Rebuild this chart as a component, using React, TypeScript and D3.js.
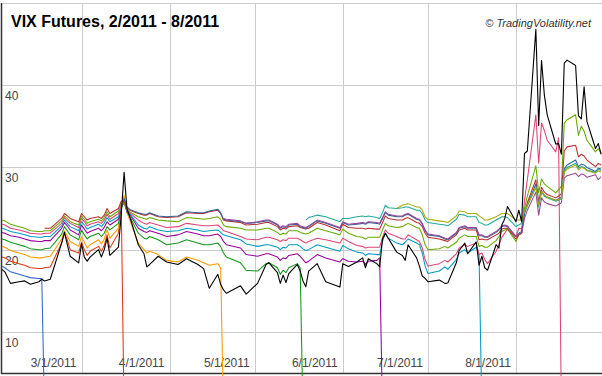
import React from "react";
import * as d3 from "d3";

// ---------- DATA ----------
const dates: string[] = [
  // Feb
  "2011-02-01","2011-02-02","2011-02-04","2011-02-07","2011-02-09","2011-02-11","2011-02-14","2011-02-15","2011-02-16","2011-02-18","2011-02-22","2011-02-23","2011-02-24","2011-02-25","2011-02-28",
  // Mar
  "2011-03-01","2011-03-02","2011-03-03","2011-03-04","2011-03-07","2011-03-08","2011-03-09","2011-03-10","2011-03-11","2011-03-14","2011-03-15","2011-03-16","2011-03-17","2011-03-18","2011-03-21","2011-03-23","2011-03-24","2011-03-25","2011-03-28","2011-03-31",
  // Apr
  "2011-04-04","2011-04-07","2011-04-11","2011-04-13","2011-04-15","2011-04-18","2011-04-19","2011-04-20","2011-04-21","2011-04-26","2011-04-28",
  // May
  "2011-05-02","2011-05-05","2011-05-06","2011-05-09","2011-05-10","2011-05-11","2011-05-12","2011-05-13","2011-05-16","2011-05-17","2011-05-18","2011-05-19","2011-05-20","2011-05-23","2011-05-26","2011-05-31",
  // Jun
  "2011-06-01","2011-06-03","2011-06-06","2011-06-08","2011-06-09","2011-06-10","2011-06-13","2011-06-14","2011-06-15","2011-06-16","2011-06-17","2011-06-20","2011-06-22","2011-06-23","2011-06-24","2011-06-27","2011-06-28","2011-06-29","2011-06-30",
  // Jul
  "2011-07-01","2011-07-05","2011-07-07","2011-07-08","2011-07-11","2011-07-12","2011-07-14","2011-07-15","2011-07-18","2011-07-19","2011-07-20","2011-07-21","2011-07-22","2011-07-25","2011-07-26","2011-07-27","2011-07-28","2011-07-29",
  // Aug
  "2011-08-01","2011-08-02","2011-08-03","2011-08-04","2011-08-05","2011-08-08","2011-08-09","2011-08-10","2011-08-11","2011-08-12","2011-08-15","2011-08-16","2011-08-17","2011-08-18","2011-08-19","2011-08-22","2011-08-23","2011-08-24","2011-08-25","2011-08-26","2011-08-29","2011-08-30","2011-08-31",
];

const vix: number[] = [
  17.6, 17.3, 15.9, 16.1, 16.2, 15.8, 16.1, 16.4, 16.2, 16.4, 20.8, 22.1, 20.6, 19.2, 18.4,
  20.7, 19.1, 18.6, 19.1, 20.0, 19.1, 20.0, 21.4, 19.3, 20.3, 24.3, 29.4, 25.0, 24.0, 20.6, 19.5, 17.9, 18.2, 19.2, 18.5,
  18.2, 18.9, 18.2, 17.7, 15.3, 17.0, 15.8, 15.1, 14.7, 15.6, 14.6,
  15.9, 18.2, 18.4, 17.2, 15.9, 16.9, 16.0, 17.1, 18.2, 17.4, 16.2, 15.5, 17.4, 18.3, 16.1, 15.45,
  18.3, 17.95, 18.5, 19.0, 17.8, 18.9, 18.3, 17.9, 21.3, 22.0, 21.4, 19.7, 19.3, 18.7, 20.6, 19.0, 18.0, 16.8, 16.5,
  16.1, 16.3, 15.9, 15.95, 18.4, 19.9, 20.8, 19.5, 20.95, 18.1, 19.2, 17.8, 17.5, 20.6, 20.2, 23.0, 23.7, 25.25,
  23.4, 24.8, 23.4, 31.7, 32.0, 46.8, 35.1, 43.0, 38.8, 36.4, 32.85, 32.9, 31.6, 42.7, 43.05, 42.4, 36.3, 35.9, 39.8, 35.6, 32.3, 32.9, 31.6,
];

const feb11: number[] = [18.0, 17.8, 17.3, 17.0, 16.8, 16.6, 16.5, 16.5, 0];

const mar11: number[] = [
  19.1, 19.0, 18.6, 18.3, 18.1, 17.8, 17.7, 17.7, 17.8, 17.9, 20.8, 22.0, 21.2, 20.0, 19.6,
  20.9, 20.0, 19.3, 19.8, 20.4, 19.8, 20.5, 21.8, 20.2, 22.0, 25.4, 0,
];

const apr11: number[] = [
  20.4, 20.3, 19.9, 19.6, 19.4, 19.1, 19.0, 19.0, 19.1, 19.2, 21.3, 22.3, 21.7, 21.0, 20.4,
  21.6, 20.9, 20.2, 20.6, 21.2, 20.7, 21.3, 22.4, 21.4, 22.6, 25.2, 26.6, 24.5, 23.6, 20.8, 20.0, 19.6, 19.8, 19.4, 18.7,
  18.5, 19.1, 18.7, 18.4, 18.1, 18.3, 17.8, 0,
];

const may11: number[] = [
  21.3, 21.2, 20.9, 20.6, 20.4, 20.1, 20.0, 20.0, 20.1, 20.2, 21.9, 22.8, 22.3, 21.8, 21.2,
  22.4, 21.8, 21.3, 21.6, 22.0, 21.6, 22.0, 22.8, 22.4, 23.2, 25.0, 26.2, 24.6, 24.0, 22.0, 21.4, 21.3, 21.6, 21.2, 20.6,
  20.8, 21.2, 20.8, 20.6, 20.6, 20.8, 20.4, 19.6, 19.1, 18.4, 17.5,
  17.4, 18.3, 18.4, 17.8, 17.0, 17.5, 17.2, 17.8, 18.3, 17.8, 0,
];

const jun11: number[] = [
  22.1, 22.0, 21.7, 21.5, 21.3, 21.1, 21.0, 21.0, 21.1, 21.1, 22.6, 23.3, 22.9, 22.4, 21.8,
  23.0, 22.5, 22.0, 22.2, 22.6, 22.3, 22.7, 23.4, 23.0, 23.7, 25.1, 25.9, 24.6, 24.3, 22.6, 22.2, 22.1, 22.3, 22.0, 21.6,
  21.8, 22.2, 21.9, 21.7, 21.7, 21.9, 21.6, 21.0, 20.6, 20.2, 19.4,
  19.2, 19.5, 19.5, 19.1, 18.7, 19.0, 18.9, 19.3, 19.5, 19.2, 18.8, 18.4, 18.6, 19.4, 19.0, 18.5,
  18.9, 18.6, 18.5, 18.6, 18.2, 18.6, 18.7, 19.0, 0,
];

const jul11: number[] = [
  22.6, 22.5, 22.2, 22.0, 21.8, 21.6, 21.5, 21.5, 21.6, 21.6, 22.9, 23.6, 23.2, 22.8, 22.3,
  23.4, 23.0, 22.5, 22.7, 23.1, 22.8, 23.2, 23.9, 23.4, 24.0, 25.2, 25.7, 24.7, 24.4, 23.0, 22.6, 22.5, 22.8, 22.4, 22.2,
  22.3, 22.6, 22.4, 22.2, 22.3, 22.4, 22.1, 21.8, 21.7, 21.2, 20.7,
  20.4, 20.6, 20.6, 20.3, 20.0, 20.3, 20.2, 20.6, 20.6, 20.4, 20.1, 19.9, 20.0, 20.6, 20.3, 19.8,
  20.5, 20.1, 19.7, 19.6, 19.3, 19.5, 19.4, 19.4, 21.0, 22.0, 21.4, 20.8, 20.6, 20.9, 21.3, 20.8, 20.6, 19.6, 18.0,
  17.1, 17.4, 17.9, 17.6, 18.8, 19.6, 20.0, 19.6, 20.3, 19.5, 0,
];

const aug11: number[] = [
  23.1, 23.0, 22.6, 22.4, 22.2, 22.0, 21.9, 21.9, 22.0, 22.0, 23.2, 23.9, 23.5, 23.2, 22.7,
  23.8, 23.4, 22.9, 23.1, 23.4, 23.2, 23.6, 24.3, 23.7, 24.4, 25.4, 25.6, 24.8, 24.5, 23.6, 23.2, 23.1, 23.3, 23.0, 22.7,
  22.8, 23.2, 23.0, 22.9, 22.9, 23.0, 22.7, 22.3, 22.2, 21.6, 21.3,
  21.2, 21.5, 21.5, 21.2, 21.0, 21.2, 21.1, 21.4, 21.4, 21.2, 21.0, 20.8, 21.0, 21.4, 21.2, 20.8,
  21.4, 21.0, 20.5, 20.4, 20.2, 20.3, 20.3, 20.3, 21.5, 22.4, 22.0, 21.6, 21.3, 21.3, 21.8, 21.2, 21.0, 20.2, 18.8,
  18.0, 18.3, 18.7, 18.5, 19.5, 20.2, 20.6, 20.4, 20.8, 19.4, 19.6, 18.8, 18.3, 19.8, 20.6, 21.5, 22.0, 22.5,
  21.6, 22.6, 22.5, 26.0, 28.5, 36.4, 30.5, 35.4, 34.5, 33.3, 31.9, 33.6, 0,
];

const sep11: number[] = [
  23.6, 23.5, 23.1, 22.8, 22.6, 22.3, 22.2, 22.2, 22.3, 22.3, 23.5, 24.1, 23.8, 23.4, 23.0,
  24.1, 23.7, 23.2, 23.4, 23.7, 23.5, 23.9, 24.6, 24.0, 24.7, 25.6, 25.7, 24.9, 24.6, 24.0, 23.8, 23.7, 23.9, 23.6, 23.5,
  23.4, 23.9, 23.8, 23.7, 23.8, 24.0, 23.7, 23.0, 22.8, 22.6, 22.4,
  22.4, 22.6, 22.6, 22.1, 21.8, 22.0, 21.9, 22.3, 22.3, 22.1, 22.0, 21.9, 22.0, 22.6, 22.3, 21.8,
  22.5, 22.0, 21.6, 21.5, 21.3, 21.5, 21.5, 21.5, 22.4, 23.2, 22.9, 22.7, 22.8, 23.0, 23.2, 22.7, 22.6, 21.8, 20.6,
  20.0, 20.1, 20.4, 20.2, 20.9, 21.4, 21.8, 21.6, 21.6, 20.4, 20.5, 20.3, 20.3, 21.1, 21.6, 22.2, 22.4, 22.5,
  21.0, 21.8, 22.0, 25.0, 26.5, 30.2, 26.9, 28.6, 28.0, 27.7, 26.9, 27.3, 27.7, 35.4, 35.8, 36.4, 33.9, 35.0, 34.4, 33.3, 31.9, 32.3, 31.7,
];

const oct11: number[] = [
  22.6, 22.6, 23.8, 24.4, 24.1, 23.8, 23.4,
  24.4, 24.0, 23.6, 23.8, 24.0, 23.8, 24.2, 25.0, 24.4, 25.0, 25.9, 26.0, 25.1, 24.8, 24.4, 24.2, 24.2, 24.4, 24.0, 23.9,
  24.0, 24.5, 24.4, 24.4, 24.6, 24.8, 24.4, 23.6, 23.5, 23.3, 23.0,
  23.1, 23.3, 23.3, 22.8, 22.4, 22.6, 22.5, 22.8, 22.9, 22.7, 22.6, 22.5, 22.6, 23.3, 23.0, 22.3,
  23.1, 22.7, 22.6, 22.6, 22.5, 22.6, 22.5, 22.5, 23.3, 24.1, 23.8, 23.6, 23.6, 23.8, 23.9, 23.3, 23.2, 22.8, 22.0,
  21.5, 21.3, 21.1, 21.0, 21.8, 22.4, 22.6, 22.4, 22.4, 21.2, 21.3, 21.2, 21.2, 21.8, 22.0, 22.5, 22.6, 22.6,
  21.3, 21.8, 22.0, 24.5, 25.7, 28.5, 25.8, 27.6, 27.0, 26.7, 26.3, 26.5, 26.8, 32.0, 32.5, 32.7, 31.3, 31.6, 31.4, 30.9, 30.1, 30.5, 30.3,
];

const nov11: number[] = [
  26.2, 25.2, 24.9, 24.5, 24.3, 24.3, 24.5, 24.1, 24.0,
  24.1, 24.6, 24.5, 24.5, 24.7, 24.9, 24.5, 23.7, 23.6, 23.4, 23.2,
  23.3, 23.5, 23.5, 23.0, 22.6, 22.8, 22.7, 23.0, 23.1, 22.8, 22.7, 22.6, 22.8, 23.5, 23.2, 22.6,
  23.3, 23.0, 23.1, 23.2, 23.1, 23.3, 23.2, 23.1, 23.8, 24.5, 24.2, 24.0, 24.0, 24.2, 24.3, 23.7, 23.6, 23.1, 22.3,
  21.8, 21.6, 21.3, 21.2, 22.0, 22.6, 22.8, 22.6, 22.6, 21.7, 21.7, 21.5, 21.5, 22.1, 22.4, 22.8, 22.9, 22.8,
  21.6, 22.0, 22.2, 24.4, 25.4, 28.0, 25.4, 27.2, 26.6, 26.4, 26.0, 26.2, 26.4, 29.8, 30.3, 30.9, 30.1, 30.4, 30.3, 30.0, 29.5, 29.9, 29.8,
];

const dec11: number[] = [
  23.8, 23.7, 23.5, 23.2,
  23.4, 23.6, 23.6, 23.1, 22.7, 22.9, 22.8, 23.1, 23.2, 22.9, 22.8, 22.7, 22.9, 23.6, 23.3, 22.7,
  23.4, 23.1, 23.2, 23.3, 23.2, 23.4, 23.3, 23.2, 23.9, 24.6, 24.3, 24.1, 24.1, 24.3, 24.4, 23.8, 23.7, 23.2, 22.4,
  21.9, 21.7, 21.4, 21.3, 22.1, 22.7, 22.9, 22.7, 22.7, 21.8, 21.8, 21.6, 21.6, 22.2, 22.5, 22.9, 23.0, 22.9,
  21.6, 21.9, 22.0, 23.8, 24.8, 27.0, 24.2, 26.3, 25.8, 25.6, 25.3, 25.5, 25.7, 28.7, 29.0, 29.3, 28.9, 29.2, 29.1, 28.8, 29.1, 28.5, 28.9,
];

const jan12: number[] = [
  23.6, 23.9, 24.2, 24.0, 23.4,
  23.8, 23.8, 24.0, 24.1, 24.0, 24.1, 23.9, 23.8, 24.5, 25.4, 25.1, 25.0, 25.1, 25.2, 25.2, 24.8, 24.8, 24.4, 23.6,
  23.3, 23.1, 23.0, 22.9, 23.7, 24.3, 24.2, 24.0, 24.0, 23.3, 23.2, 23.0, 23.0, 23.6, 23.8, 24.0, 24.0, 23.9,
  22.8, 23.0, 23.2, 24.6, 25.3, 27.6, 25.2, 27.0, 26.5, 26.3, 25.9, 26.0, 26.2, 29.6, 30.0, 30.5, 29.9, 30.1, 30.0, 29.7, 29.4, 29.8, 29.6,
];

const feb12: number[] = [
  25.0, 25.4, 25.5, 25.6, 25.2, 25.2, 24.8, 24.0,
  23.7, 23.5, 23.4, 23.3, 24.1, 24.7, 24.6, 24.4, 24.4, 24.1, 23.9, 23.6, 23.6, 24.0, 24.2, 24.4, 24.4, 24.4,
  23.6, 23.6, 23.6, 24.8, 25.4, 27.6, 25.4, 27.1, 26.6, 26.4, 26.0, 26.1, 26.3, 29.4, 29.8, 30.3, 29.7, 30.0, 29.9, 29.6, 29.3, 29.6, 29.4,
];

const seriesNames: string[] = ["Feb 2011", "Mar 2011", "Apr 2011", "May 2011", "Jun 2011", "Jul 2011", "Aug 2011", "Sep 2011", "Oct 2011", "Nov 2011", "Dec 2011", "Jan 2012", "Feb 2012"];
const seriesStarts: string[] = ["2011-02-01", "2011-02-01", "2011-02-01", "2011-02-01", "2011-02-01", "2011-02-01", "2011-02-01", "2011-02-01", "2011-02-16", "2011-03-16", "2011-04-20", "2011-05-19", "2011-06-20"];
const seriesValues: number[][] = [feb11, mar11, apr11, may11, jun11, jul11, aug11, sep11, oct11, nov11, dec11, jan12, feb12];
const seriesColors: string[] = ["#3366cc", "#dc3912", "#ff9900", "#109618", "#990099", "#0099c6", "#dd4477", "#66aa00", "#b82e2e", "#316395", "#994499", "#22aa99", "#aaaa11"];

const yTicks: number[] = [10, 20, 30, 40];
const monthTicks: string[] = ["2011-03-01", "2011-04-01", "2011-05-01", "2011-06-01", "2011-07-01", "2011-08-01"];
const monthLabels: string[] = ["3/1/2011", "4/1/2011", "5/1/2011", "6/1/2011", "7/1/2011", "8/1/2011"];

const title = "VIX Futures, 2/2011 - 8/2011";
const credit = "\u00a9 TradingVolatility.net";

// ---------- CHART ----------
const W = 602;
const H = 376;
const FONT = "Arial, 'Liberation Sans', sans-serif";

export default function App() {
  const parse = d3.timeParse("%Y-%m-%d");
  const dts = dates.map((d) => parse(d) as Date);

  const x = d3
    .scaleTime()
    .domain([new Date(2011, 1, 1), new Date(2011, 8, 1)])
    .range([2, 604]);
  const y = d3.scaleLinear().domain([5, 50]).range([373, 3]);

  type Pt = { d: Date; v: number };
  const line = d3
    .line<Pt>()
    .x((p) => x(p.d))
    .y((p) => y(p.v));

  const buildPts = (start: string, vals: number[]): Pt[] => {
    const s = dates.indexOf(start);
    const pts: Pt[] = [];
    vals.forEach((v, i) => {
      const k = s + i;
      if (k < dts.length) pts.push({ d: dts[k], v });
    });
    return pts;
  };

  const vixPts = buildPts(dates[0], vix);

  return (
    <svg
      width={W}
      height={H}
      style={{ position: "absolute", left: 0, top: 0, background: "#fff" }}
      fontFamily={FONT}
    >
      <rect x={0} y={0} width={W} height={H} fill="#fff" />
      {/* horizontal gridlines */}
      {[...yTicks, 50].map((t) => (
        <line key={"h" + t} x1={1} x2={W} y1={Math.round(y(t)) + 0.5} y2={Math.round(y(t)) + 0.5} stroke="#cccccc" strokeWidth={1} />
      ))}
      {/* vertical gridlines */}
      {monthTicks.map((m) => {
        const xx = Math.round(x(parse(m) as Date)) + 0.5;
        return <line key={"v" + m} x1={xx} x2={xx} y1={y(50)} y2={373} stroke="#cccccc" strokeWidth={1} />;
      })}
      {/* axes */}
      <line x1={1.5} x2={1.5} y1={y(50)} y2={374} stroke="#333" strokeWidth={1.5} />
      <line x1={1} x2={W} y1={373.5} y2={373.5} stroke="#333" strokeWidth={1.5} />

      {/* y labels */}
      {yTicks.map((t) => (
        <text key={"yl" + t} x={5} y={y(t) + 15} fontSize={12} fill="#444">
          {t}
        </text>
      ))}
      {/* x labels */}
      {monthTicks.map((m, i) => (
        <text key={"xl" + m} x={x(parse(m) as Date) - 5} y={367} fontSize={12} fill="#444" textAnchor="end">
          {monthLabels[i]}
        </text>
      ))}

      {/* futures */}
      {seriesValues.map((vals, i) => (
        <path
          key={seriesNames[i]}
          d={line(buildPts(seriesStarts[i], vals)) || ""}
          fill="none"
          stroke={seriesColors[i]}
          strokeWidth={1.05}
          strokeLinejoin="round"
        />
      ))}
      {/* VIX */}
      <path d={line(vixPts) || ""} fill="none" stroke="#000" strokeWidth={1.1} strokeLinejoin="round" />

      {/* title */}
      <text x={11} y={27} fontSize={16} fontWeight="bold" fill="#000">
        {title}
      </text>
      <text x={591} y={27} fontSize={11} fontStyle="italic" fill="#333" textAnchor="end">
        {credit}
      </text>
    </svg>
  );
}
